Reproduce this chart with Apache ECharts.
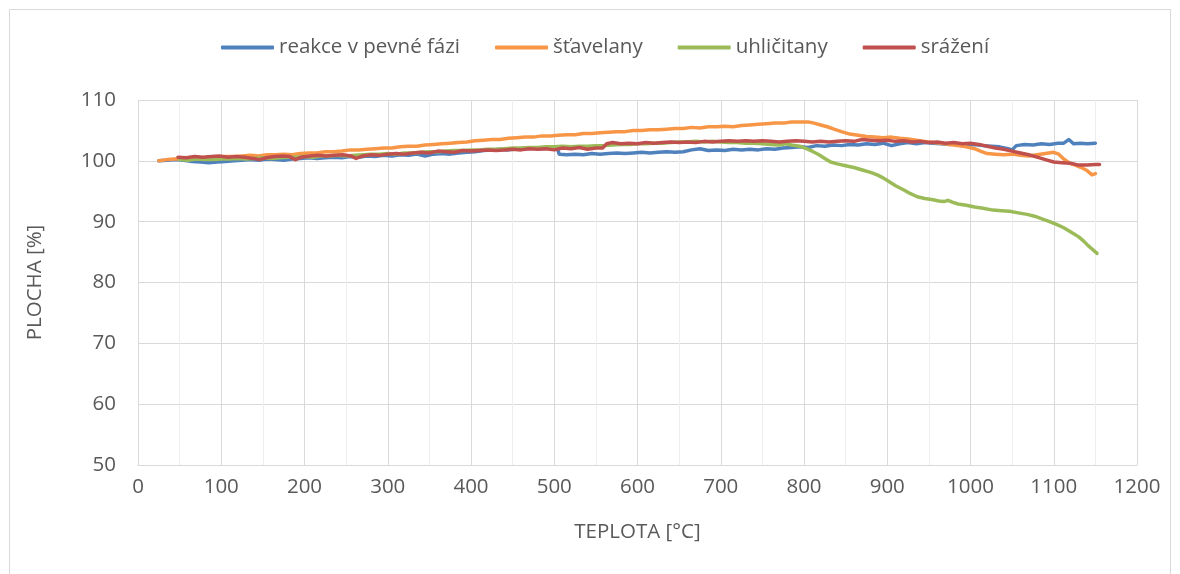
<!DOCTYPE html>
<html>
<head>
<meta charset="utf-8">
<script src="https://cdn.jsdelivr.net/npm/echarts@6/dist/echarts.min.js"></script>
<style>
  html, body { margin: 0; padding: 0; background: #ffffff; }
  #chart { width: 1180px; height: 574px; }
</style>
</head>
<body>
<div id="chart"></div>
<script>
// Series names (legend order)
const seriesNames = ['reakce v pevné fázi', 'šťavelany', 'uhličitany', 'srážení'];
const seriesColors = ['#4F81BD', '#F79646', '#9BBB59', '#C0504D'];

// Measured area [%] versus temperature [°C], one [teplota, plocha] pair per reading
const reakce = [
  [25,100.0],[35,100.1],[45,100.2],[55,100.1],[65,99.9],[75,99.8],[85,99.7],[95,99.8],[105,99.9],
  [115,100.0],[125,100.1],[135,100.2],[145,100.1],[155,100.3],[165,100.2],[175,100.1],[185,100.3],
  [195,100.4],[205,100.5],[215,100.4],[225,100.5],[235,100.6],[245,100.5],[255,100.7],[265,100.6],
  [275,100.8],[285,100.7],[295,100.9],[305,100.8],[315,101.0],[325,100.9],[335,101.1],[345,100.8],
  [355,101.1],[365,101.2],[375,101.1],[385,101.3],[395,101.4],[405,101.5],[415,101.7],[425,101.8],
  [435,101.9],[445,101.8],[455,102.0],[465,102.0],[475,102.1],[485,102.0],[495,102.2],[503,102.3],
  [506,101.1],[515,101.0],[525,101.1],[535,101.0],[545,101.2],[555,101.1],[565,101.2],[575,101.3],
  [585,101.2],[595,101.3],[605,101.4],[615,101.3],[625,101.4],[635,101.5],[645,101.4],[655,101.5],
  [665,101.8],[675,102.0],[685,101.7],[695,101.8],[705,101.7],[715,101.9],[725,101.8],[735,101.9],
  [745,101.8],[755,102.0],[765,101.9],[775,102.1],[785,102.2],[795,102.3],[805,102.2],[815,102.5],
  [825,102.4],[835,102.6],[845,102.5],[855,102.7],[865,102.6],[875,102.8],[885,102.7],[895,102.9],
  [905,102.5],[915,102.8],[925,103.0],[935,102.8],[945,103.0],[955,102.9],[965,102.8],[975,102.7],
  [985,102.8],[995,102.6],[1005,102.7],[1015,102.5],[1025,102.4],[1035,102.3],[1045,102.0],[1050,101.8],
  [1055,102.5],[1065,102.7],[1075,102.6],[1085,102.8],[1095,102.7],[1105,102.9],[1112,102.9],[1118,103.5],
  [1124,102.8],[1132,102.9],[1140,102.8],[1150,102.9]
];
const stavelany = [
  [25,100.0],[35,100.2],[45,100.3],[55,100.3],[65,100.5],[75,100.4],[85,100.6],[95,100.6],[105,100.7],
  [115,100.7],[125,100.8],[135,100.9],[145,100.8],[155,101.0],[165,101.0],[175,101.1],[185,101.0],
  [195,101.2],[205,101.3],[215,101.3],[225,101.5],[235,101.5],[245,101.6],[255,101.8],[265,101.8],
  [275,101.9],[285,102.0],[295,102.1],[305,102.1],[315,102.3],[325,102.4],[335,102.4],[345,102.6],
  [355,102.7],[365,102.8],[375,102.9],[385,103.0],[395,103.1],[405,103.3],[415,103.4],[425,103.5],
  [435,103.5],[445,103.7],[455,103.8],[465,103.9],[475,103.9],[485,104.1],[495,104.1],[505,104.2],
  [515,104.3],[525,104.3],[535,104.5],[545,104.5],[555,104.6],[565,104.7],[575,104.8],[585,104.8],
  [595,105.0],[605,105.0],[615,105.1],[625,105.1],[635,105.2],[645,105.3],[655,105.3],[665,105.5],
  [675,105.4],[685,105.6],[695,105.6],[705,105.7],[715,105.6],[725,105.8],[735,105.9],[745,106.0],
  [755,106.1],[765,106.2],[775,106.2],[785,106.4],[795,106.4],[805,106.4],[812,106.2],[820,105.9],
  [828,105.6],[836,105.2],[845,104.8],[855,104.4],[865,104.2],[875,104.0],[885,103.9],[895,103.8],
  [905,103.9],[915,103.7],[925,103.6],[935,103.4],[945,103.2],[955,103.0],[965,102.9],[975,102.7],
  [985,102.5],[995,102.3],[1005,102.0],[1012,101.6],[1020,101.2],[1030,101.1],[1040,101.0],[1050,101.1],
  [1060,100.9],[1070,100.8],[1080,101.0],[1090,101.2],[1100,101.4],[1106,101.1],[1112,100.3],[1119,99.6],
  [1126,99.3],[1133,98.9],[1140,98.4],[1146,97.7],[1150,97.9]
];
const uhlicitany = [
  [50,100.2],[60,100.1],[70,100.3],[80,100.2],[90,100.2],[100,100.3],[110,100.3],[120,100.4],[130,100.3],
  [140,100.4],[150,100.5],[160,100.4],[170,100.5],[180,100.6],[190,100.6],[200,100.7],[210,100.6],
  [220,100.8],[230,100.8],[240,100.9],[250,100.8],[260,100.9],[270,101.0],[280,101.1],[290,101.1],
  [300,101.2],[310,101.1],[320,101.3],[330,101.3],[340,101.4],[350,101.5],[360,101.5],[370,101.6],
  [380,101.7],[390,101.7],[400,101.8],[410,101.8],[420,101.9],[430,101.9],[440,102.0],[450,102.1],
  [460,102.1],[470,102.2],[480,102.2],[490,102.3],[500,102.3],[510,102.4],[520,102.3],[530,102.4],
  [540,102.4],[550,102.5],[560,102.5],[570,102.6],[580,102.7],[590,102.7],[600,102.8],[610,102.8],
  [620,102.9],[630,102.9],[640,103.0],[650,103.1],[660,103.1],[670,103.2],[680,103.1],[690,103.2],
  [700,103.1],[710,103.0],[720,103.0],[730,102.9],[740,102.9],[750,102.8],[760,102.7],[770,102.6],
  [778,102.8],[785,102.6],[795,102.4],[803,102.0],[811,101.5],[818,101.0],[825,100.4],[832,99.8],
  [840,99.5],[850,99.2],[860,98.9],[870,98.5],[880,98.1],[888,97.7],[895,97.2],[902,96.6],
  [910,95.9],[920,95.2],[928,94.6],[936,94.1],[945,93.8],[955,93.6],[962,93.4],[968,93.3],
  [973,93.5],[978,93.2],[985,92.9],[995,92.7],[1005,92.4],[1015,92.2],[1027,91.9],[1037,91.8],
  [1047,91.7],[1059,91.4],[1068,91.2],[1077,90.9],[1085,90.5],[1095,90.0],[1104,89.5],[1112,89.0],
  [1118,88.5],[1124,88.0],[1130,87.5],[1136,86.8],[1141,86.1],[1146,85.5],[1152,84.8]
];
const srazeni = [
  [48,100.6],[58,100.5],[68,100.7],[78,100.6],[88,100.7],[98,100.8],[108,100.6],[118,100.7],[128,100.6],
  [138,100.4],[146,100.2],[154,100.5],[164,100.7],[174,100.8],[182,100.7],[189,100.2],[196,100.6],
  [206,100.8],[216,100.9],[226,100.8],[236,100.9],[246,101.0],[256,100.8],[262,100.4],[270,100.8],
  [280,101.0],[290,100.9],[300,101.1],[310,101.2],[320,101.1],[330,101.3],[340,101.4],[350,101.3],
  [360,101.6],[370,101.5],[380,101.4],[390,101.7],[400,101.6],[410,101.7],[420,101.8],[430,101.7],
  [440,101.8],[450,101.9],[460,101.8],[470,102.0],[480,101.9],[490,102.0],[500,101.8],[510,102.1],
  [520,102.0],[530,102.2],[540,101.9],[550,102.1],[558,102.1],[563,102.8],[570,103.0],[580,102.8],
  [590,102.9],[600,102.8],[610,103.0],[620,102.9],[630,103.0],[640,103.1],[650,103.0],[660,103.1],
  [670,103.0],[680,103.2],[690,103.1],[700,103.2],[710,103.3],[720,103.2],[730,103.3],[740,103.2],
  [750,103.3],[760,103.2],[770,103.1],[780,103.2],[790,103.3],[800,103.2],[810,103.1],[820,103.2],
  [830,103.1],[840,103.2],[850,103.3],[860,103.2],[870,103.5],[880,103.4],[890,103.3],[900,103.4],
  [910,103.2],[920,103.3],[930,103.1],[940,103.2],[950,103.0],[960,103.1],[970,102.9],[980,103.0],
  [990,102.8],[1000,102.9],[1010,102.7],[1020,102.4],[1030,102.1],[1040,101.9],[1050,101.6],[1060,101.3],
  [1070,101.0],[1080,100.6],[1090,100.2],[1100,99.8],[1110,99.7],[1120,99.6],[1130,99.3],[1140,99.3],
  [1150,99.4],[1155,99.4]
];
const seriesData = [reakce, stavelany, uhlicitany, srazeni];

// Axis ranges
const xMin = 0, xMax = 1200, xStep = 100;
const yMin = 50, yMax = 110, yStep = 10;

const font = 'Open Sans';
const textColor = '#595959';
const gridColor = '#d9d9d9';
const fontSize = 20.5;

const chart = echarts.init(document.getElementById('chart'), null, { renderer: 'canvas' });

chart.setOption({
  animation: false,
  backgroundColor: '#ffffff',
  textStyle: { fontFamily: font, color: textColor },
  graphic: [{
    type: 'rect',
    shape: { x: 9.5, y: 9.5, width: 1161, height: 600 },
    style: { fill: 'none', stroke: gridColor, lineWidth: 1 },
    silent: true,
    z: -1
  }],
  legend: {
    top: 32,
    left: 216,
    itemWidth: 53,
    itemHeight: 4,
    itemGap: 35,
    icon: 'roundRect',
    textStyle: { fontFamily: font, fontSize: fontSize, color: textColor },
    data: seriesNames
  },
  grid: { left: 138, right: 43, top: 100, bottom: 109, containLabel: false },
  xAxis: {
    type: 'value',
    min: xMin, max: xMax, interval: xStep,
    name: 'TEPLOTA [°C]',
    nameLocation: 'middle',
    nameGap: 57,
    nameTextStyle: { fontFamily: font, fontSize: fontSize, color: textColor },
    axisLine: { show: true, lineStyle: { color: gridColor, width: 1 } },
    axisTick: { show: false },
    axisLabel: {
      fontFamily: font, fontSize: fontSize, color: textColor, margin: 12,
      formatter: (v) => String(v)
    },
    splitLine: { show: true, lineStyle: { color: gridColor, width: 1 } },
    minorTick: { show: false, splitNumber: 2 },
    minorSplitLine: { show: true, lineStyle: { color: '#eeeeee', width: 1 } }
  },
  yAxis: {
    type: 'value',
    min: yMin, max: yMax, interval: yStep,
    name: 'PLOCHA [%]',
    nameLocation: 'middle',
    nameGap: 92,
    nameRotate: 90,
    nameTextStyle: { fontFamily: font, fontSize: fontSize, color: textColor },
    axisLine: { show: false },
    axisTick: { show: false },
    axisLabel: {
      fontFamily: font, fontSize: fontSize, color: textColor, margin: 22,
      formatter: (v) => String(v)
    },
    splitLine: { show: true, lineStyle: { color: gridColor, width: 1 } }
  },
  series: seriesNames.map((name, i) => ({
    name: name,
    type: 'line',
    data: seriesData[i],
    showSymbol: false,
    symbol: 'none',
    smooth: false,
    color: seriesColors[i],
    lineStyle: { width: 3.5, color: seriesColors[i], cap: 'round', join: 'round' },
    z: 2 + i
  }))
});
</script>
</body>
</html>
